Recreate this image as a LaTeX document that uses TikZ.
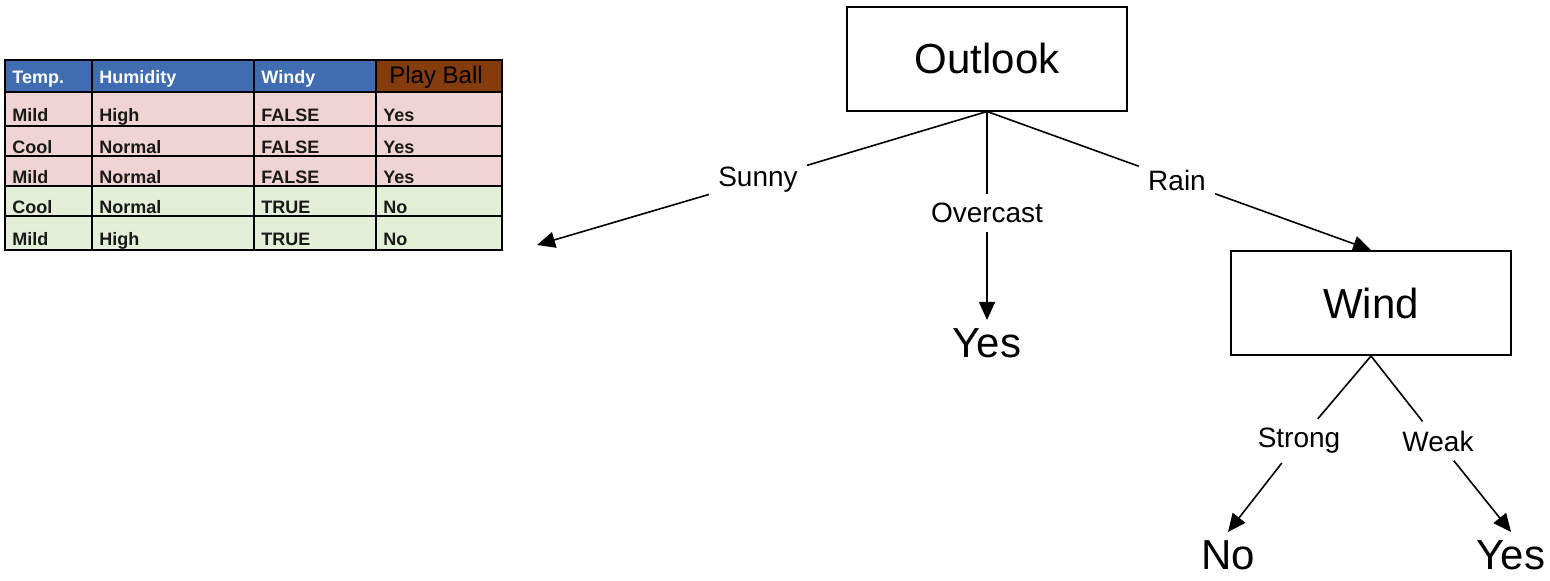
\documentclass[tikz,border=0pt]{standalone}
\usepackage{fontspec}
\setmainfont{Liberation Sans}
\usetikzlibrary{arrows.meta,positioning}

\definecolor{hdrblue}{RGB}{64,108,178}
\definecolor{hdrbrown}{RGB}{132,60,12}
\definecolor{rowpink}{RGB}{240,212,211}
\definecolor{rowgreen}{RGB}{228,239,216}

\begin{document}
\begin{tikzpicture}[x=0.5pt,y=-0.5pt,
    box/.style={rectangle, draw, line width=1pt, minimum width=140pt, minimum height=52pt, font=\fontsize{21}{24}\selectfont},
    leaf/.style={font=\fontsize{21}{24}\selectfont, inner sep=4pt},
    branch/.style={font=\fontsize{14}{16}\selectfont, inner sep=4.5pt},
    tree/.style={line width=0.8pt},
    arr/.style={tree, -{Triangle[length=9pt,width=8pt]}},
    cell/.style={anchor=base west, font=\bfseries\fontsize{9}{10}\selectfont, inner sep=0pt, text=black!90}]
        \useasboundingbox (0,0) rectangle (1550,580);

        % the table of the Sunny branch
        \fill[hdrblue] (5,60) rectangle (376,92);
        \fill[hdrbrown] (376,60) rectangle (502,92);
        \fill[rowpink] (5,92) rectangle (502,186);
        \fill[rowgreen] (5,186) rectangle (502,250);
        \foreach \x in {92,254,376} \draw[line width=1pt] (\x,60) -- (\x,250);
        \foreach \y in {92,126,156,186,216} \draw[line width=1pt] (5,\y) -- (502,\y);
        \draw[line width=1.4pt] (5,60) rectangle (502,250);

        \node[cell, text=white] (hdtemp) at (12,83) {Temp.};
        \node[cell, text=white] (hdhum) at (99,83) {Humidity};
        \node[cell, text=white] (hdwindy) at (261,83) {Windy};
        \node[anchor=base west, inner sep=0pt, font=\fontsize{12}{14}\selectfont] (hdplay) at (389,83) {Play Ball};
        \foreach \r/\yb/\t/\h/\w/\p in {1/121/Mild/High/FALSE/Yes, 2/153/Cool/Normal/FALSE/Yes,
            3/183/Mild/Normal/FALSE/Yes, 4/213/Cool/Normal/TRUE/No, 5/245/Mild/High/TRUE/No} {
          \node[cell] (temp\r) at (12,\yb) {\t};
          \node[cell] (hum\r) at (99,\yb) {\h};
          \node[cell] (windy\r) at (261,\yb) {\w};
          \node[cell] (play\r) at (383,\yb) {\p};
        }

        % the tree
        \node[box] (outlook) at (987,58.5) {Outlook};
        \node[branch] (sunny) at (758,180) {Sunny};
        \node[branch] (overcast) at (987,213) {Overcast};
        \node[branch] (rain) at (1177,180) {Rain};
        \coordinate (sunnyend) at (537,245);
        \node[leaf] (yesover) at (987,343) {Yes};
        \node[box] (wind) at (1371,303) {Wind};
        \node[branch] (strong) at (1299,441) {Strong};
        \node[branch] (weak) at (1438,441) {Weak};
        \node[leaf] (nostrong) at (1228,555) {No};
        \node[leaf] (yesweak) at (1511,555) {Yes};

        \draw[tree] (outlook.south) -- (sunny);
        \draw[arr] (sunny) -- (sunnyend);
        \draw[tree] (outlook.south) -- (overcast);
        \draw[arr] (overcast) -- (yesover.north);
        \draw[tree] (outlook.south) -- (rain);
        \draw[arr] (rain) -- (wind.north);
        \draw[tree] (wind.south) -- (strong);
        \draw[arr] (strong) -- (nostrong.north);
        \draw[tree] (wind.south) -- (weak);
        \draw[arr] (weak) -- (yesweak.north);
      \end{tikzpicture}
\end{document}
